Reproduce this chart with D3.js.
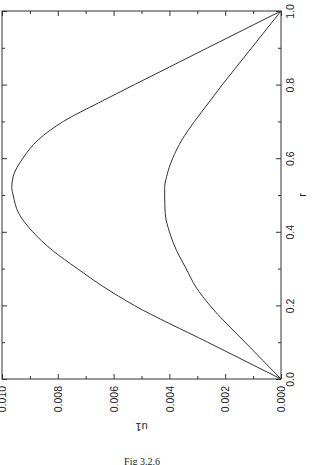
<!DOCTYPE html>
<html>
<head>
<meta charset="utf-8">
<script src="https://cdn.jsdelivr.net/npm/d3@7"></script>
<style>
  body { margin: 0; background: #fff; }
  svg { display: block; }
  .axis path, .axis line { stroke: #333; stroke-width: 1; }
  .axis text { font-family: "Liberation Sans", Arial, sans-serif; font-size: 10.5px; fill: #222; }
  .curve { fill: none; stroke: #333; stroke-width: 1; }
</style>
</head>
<body>
<svg width="312" height="465"></svg>
<script>
// values (r along the right edge, u along the bottom)
var rValues   = [0, 0.1, 0.2, 0.25, 0.3, 0.35, 0.4, 0.45, 0.5, 0.52, 0.55, 0.6, 0.65, 0.7, 0.75, 0.8, 0.9, 1.0];
var uOuter    = [0, 0.00263, 0.00526, 0.00635, 0.0073, 0.0082, 0.0089, 0.0094, 0.0096, 0.00965, 0.0096, 0.00925, 0.0087, 0.0078, 0.00655, 0.00525, 0.00263, 0];
var uInner    = [0, 0.00129, 0.00255, 0.00305, 0.0034, 0.00375, 0.004, 0.00415, 0.00417, 0.00417, 0.0041, 0.00388, 0.00355, 0.0031, 0.0026, 0.0021, 0.00105, 0];
var uTicks    = [0, 0.002, 0.004, 0.006, 0.008, 0.010];
var uMinor    = [0.001, 0.003, 0.005, 0.007, 0.009];
var rTicks    = [0, 0.2, 0.4, 0.6, 0.8, 1.0];
var rMinor    = [0.1, 0.3, 0.5, 0.7, 0.9];

var svg = d3.select("svg"),
    plotL = 2, plotR = 281, plotT = 11, plotB = 379;

// u increases to the left, r increases upward (page turned on its side)
var x = d3.scaleLinear().domain([0, 0.010]).range([plotR, plotL]);
var y = d3.scaleLinear().domain([0, 1]).range([plotB, plotT]);

// frame
svg.append("rect")
    .attr("x", plotL).attr("y", plotT)
    .attr("width", plotR - plotL).attr("height", plotB - plotT)
    .attr("fill", "none").attr("stroke", "#333");

function noDomain(g) { g.select(".domain").remove(); }

// bottom axis (u) with labels
var gx = svg.append("g")
    .attr("class", "axis")
    .attr("transform", "translate(0," + plotB + ")")
    .call(d3.axisBottom(x).tickValues(uTicks).tickSize(-5).tickFormat(d3.format(".3f")))
    .call(noDomain);
gx.selectAll("text")
    .attr("transform", "rotate(-90)")
    .attr("x", -7).attr("y", 0).attr("dy", "0.35em")
    .attr("text-anchor", "end");

svg.append("g")
    .attr("class", "axis")
    .attr("transform", "translate(0," + plotB + ")")
    .call(d3.axisBottom(x).tickValues(uMinor).tickSize(-3).tickFormat(""))
    .call(noDomain);

// mirrored ticks on top
svg.append("g")
    .attr("class", "axis")
    .attr("transform", "translate(0," + plotT + ")")
    .call(d3.axisTop(x).tickValues(uTicks).tickSize(-5).tickFormat(""))
    .call(noDomain);
svg.append("g")
    .attr("class", "axis")
    .attr("transform", "translate(0," + plotT + ")")
    .call(d3.axisTop(x).tickValues(uMinor).tickSize(-3).tickFormat(""))
    .call(noDomain);

// right axis (r) with labels
var gy = svg.append("g")
    .attr("class", "axis")
    .attr("transform", "translate(" + plotR + ",0)")
    .call(d3.axisRight(y).tickValues(rTicks).tickSize(-5).tickFormat(d3.format(".1f")))
    .call(noDomain);
gy.selectAll("text")
    .attr("transform", "rotate(-90)")
    .attr("x", 0).attr("y", 13).attr("dy", 0)
    .attr("text-anchor", "middle");

svg.append("g")
    .attr("class", "axis")
    .attr("transform", "translate(" + plotR + ",0)")
    .call(d3.axisRight(y).tickValues(rMinor).tickSize(-3).tickFormat(""))
    .call(noDomain);

// mirrored ticks on the left
svg.append("g")
    .attr("class", "axis")
    .attr("transform", "translate(" + plotL + ",0)")
    .call(d3.axisLeft(y).tickValues(rTicks).tickSize(-5).tickFormat(""))
    .call(noDomain);
svg.append("g")
    .attr("class", "axis")
    .attr("transform", "translate(" + plotL + ",0)")
    .call(d3.axisLeft(y).tickValues(rMinor).tickSize(-3).tickFormat(""))
    .call(noDomain);

// curves (u as a function of r, so monotone in y)
var line = d3.line()
    .x(function(d) { return x(d.u); })
    .y(function(d) { return y(d.r); })
    .curve(d3.curveMonotoneY);

[uOuter, uInner].forEach(function(us) {
  var pts = rValues.map(function(r, i) { return {r: r, u: us[i]}; });
  svg.append("path")
      .datum(pts)
      .attr("class", "curve")
      .attr("d", line);
});

// axis titles
svg.append("text")
    .attr("transform", "translate(306," + y(0.5) + ") rotate(-90)")
    .attr("text-anchor", "middle")
    .attr("font-family", "Liberation Sans, Arial, sans-serif")
    .attr("font-size", "11px")
    .attr("fill", "#222")
    .text("r");

svg.append("text")
    .attr("transform", "translate(" + x(0.005) + ",423) rotate(180)")
    .attr("text-anchor", "middle")
    .attr("font-family", "Liberation Sans, Arial, sans-serif")
    .attr("font-size", "11px")
    .attr("fill", "#222")
    .text("u1");

// caption
svg.append("text")
    .attr("x", 142).attr("y", 465)
    .attr("text-anchor", "middle")
    .attr("font-family", "Liberation Serif, Times New Roman, serif")
    .attr("font-size", "10px")
    .attr("fill", "#222")
    .text("Fig 3.2.6");
</script>
</body>
</html>
